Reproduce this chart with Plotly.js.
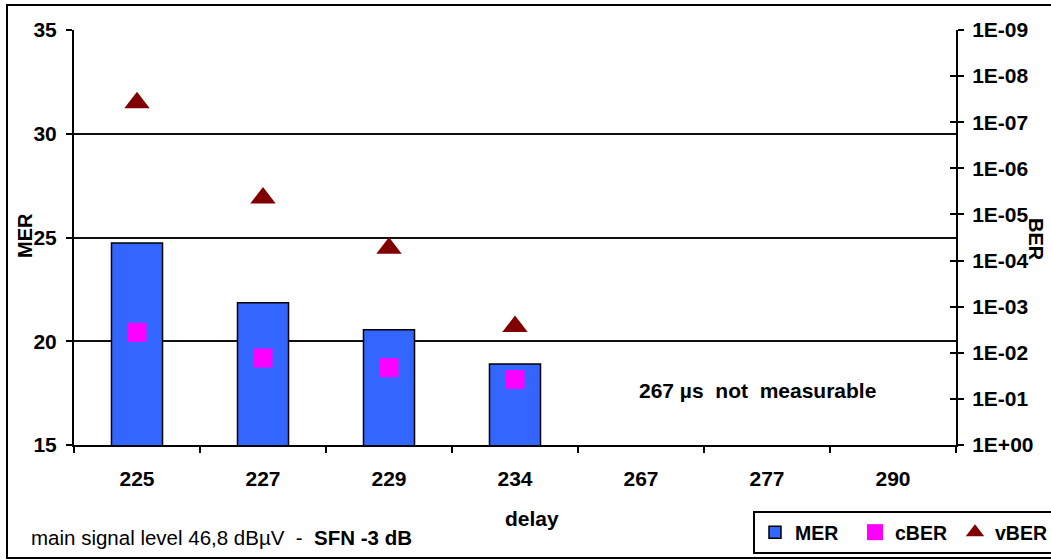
<!DOCTYPE html>
<html>
<head>
<meta charset="utf-8">
<script src="https://cdn.plot.ly/plotly-3.0.1.min.js"></script>
<style>body{margin:0;padding:0;background:#fff;} #chart{width:1051px;height:560px;}</style>
</head>
<body>
<div id="chart"></div>
<script>
const categories = ['225', '227', '229', '234', '267', '277', '290'];
const merValues = [24.73, 21.85, 20.55, 18.9];
const cberValues = [3.6e-3, 1.3e-2, 2.1e-2, 3.8e-2];
const vberValues = [3.8e-8, 4.4e-6, 5.4e-5, 2.7e-3];
const berTickVals = [1, 1e-1, 1e-2, 1e-3, 1e-4, 1e-5, 1e-6, 1e-7, 1e-8, 1e-9];
const berTickText = ['1E+00', '1E-01', '1E-02', '1E-03', '1E-04', '1E-05', '1E-06', '1E-07', '1E-08', '1E-09'];
const merTickVals = [15, 20, 25, 30, 35];

const FONT = 'Liberation Sans, Arial, sans-serif';
const W = 1051, H = 560, L = 74, R = 956, T = 30, B = 445;
const px = x => (x - L) / (R - L);
const py = y => (B - y) / (B - T);

const traces = [
  {
    type: 'bar', name: 'MER',
    x: categories.slice(0, merValues.length), y: merValues,
    marker: {color: '#3366FF', line: {color: '#000', width: 1.5}},
    yaxis: 'y', xaxis: 'x'
  },
  {
    type: 'scatter', mode: 'markers', name: 'cBER',
    x: categories.slice(0, cberValues.length), y: cberValues,
    marker: {symbol: 'square', color: '#FF00FF', size: 19},
    yaxis: 'y2', xaxis: 'x'
  },
  {
    type: 'scatter', mode: 'markers', name: 'vBER',
    x: categories.slice(0, vberValues.length), y: vberValues,
    marker: {symbol: 'triangle-up', color: '#800000', size: 22},
    yaxis: 'y2', xaxis: 'x'
  }
];

const layout = {
  width: W, height: H,
  margin: {l: L, r: W - R, t: T, b: H - B, pad: 0, autoexpand: false},
  paper_bgcolor: '#fff', plot_bgcolor: '#fff',
  font: {family: FONT, color: '#000', size: 20},
  showlegend: true,
  bargap: 0.595,
  xaxis: {
    type: 'category', categoryorder: 'array', categoryarray: categories,
    range: [-0.5, categories.length - 0.5],
    tickson: 'boundaries', ticks: 'outside', ticklen: 6, tickcolor: '#000', tickwidth: 2,
    showline: true, linecolor: '#000', linewidth: 2,
    showgrid: false, zeroline: false,
    ticklabelstandoff: 14,
    tickfont: {family: FONT, size: 21, weight: 'bold'},
    title: {text: ''}
  },
  yaxis: {
    range: [15, 35], tickvals: merTickVals,
    ticks: 'outside', ticklen: 6, tickcolor: '#000', tickwidth: 2,
    showline: true, linecolor: '#000', linewidth: 2,
    showgrid: true, gridcolor: '#111', gridwidth: 2, zeroline: false,
    ticklabelstandoff: 5,
    tickfont: {family: FONT, size: 21, weight: 'bold'},
    title: {text: ''}
  },
  yaxis2: {
    type: 'log', range: [0, -9], overlaying: 'y', side: 'right',
    tickvals: berTickVals, ticktext: berTickText,
    ticks: 'outside', ticklen: 6, tickcolor: '#000', tickwidth: 2,
    showline: true, linecolor: '#000', linewidth: 2,
    showgrid: false, zeroline: false,
    ticklabelstandoff: 4,
    tickfont: {family: FONT, size: 21, weight: 'bold'},
    title: {text: ''}
  },
  yaxis3: {
    type: 'log', range: [0, -9], overlaying: 'y', side: 'right',
    tickvals: berTickVals, showticklabels: false,
    ticks: 'inside', ticklen: 6, tickcolor: '#000', tickwidth: 2,
    showline: false, showgrid: false, zeroline: false
  },
  legend: {
    orientation: 'h', x: px(753), y: py(511), xanchor: 'left', yanchor: 'top',
    bordercolor: '#000', borderwidth: 2, bgcolor: '#fff',
    font: {family: FONT, size: 19.5, weight: 'bold'},
    itemwidth: 30, tracegroupgap: 0, entrywidth: 55
  },
  annotations: [
    {xref: 'paper', yref: 'paper', x: px(757), y: py(390), text: '<b>267 µs  not  measurable</b>',
     showarrow: false, font: {family: FONT, size: 21}, xanchor: 'center', yanchor: 'middle'},
    {xref: 'paper', yref: 'paper', x: px(29), y: py(537),
     text: 'main signal level 46,8 dBµV  -  <b>SFN -3 dB</b>',
     showarrow: false, font: {family: FONT, size: 20.5}, xanchor: 'left', yanchor: 'middle'},
    {xref: 'paper', yref: 'paper', x: px(532), y: py(518), text: '<b>delay</b>',
     showarrow: false, font: {family: FONT, size: 21}, xanchor: 'center', yanchor: 'middle'},
    {xref: 'paper', yref: 'paper', x: px(25), y: py(236), text: '<b>MER</b>',
     textangle: -90, showarrow: false, font: {family: FONT, size: 20}, xanchor: 'center', yanchor: 'middle'},
    {xref: 'paper', yref: 'paper', x: px(1036), y: py(239), text: '<b>BER</b>',
     textangle: 90, showarrow: false, font: {family: FONT, size: 20}, xanchor: 'center', yanchor: 'middle'}
  ],
  shapes: [
    {type: 'rect', xref: 'paper', yref: 'paper', x0: px(7), x1: px(1060), y0: py(5), y1: py(558),
     line: {color: '#000', width: 2}, fillcolor: 'rgba(0,0,0,0)', layer: 'below'}
  ]
};

// helper trace so that the overlaid axis with inside tick marks is drawn
traces.push({type: 'scatter', mode: 'markers', x: [categories[0]], y: [null], yaxis: 'y3', showlegend: false, hoverinfo: 'skip'});

Plotly.newPlot('chart', traces, layout, {displayModeBar: false, staticPlot: true});
</script>
</body>
</html>
